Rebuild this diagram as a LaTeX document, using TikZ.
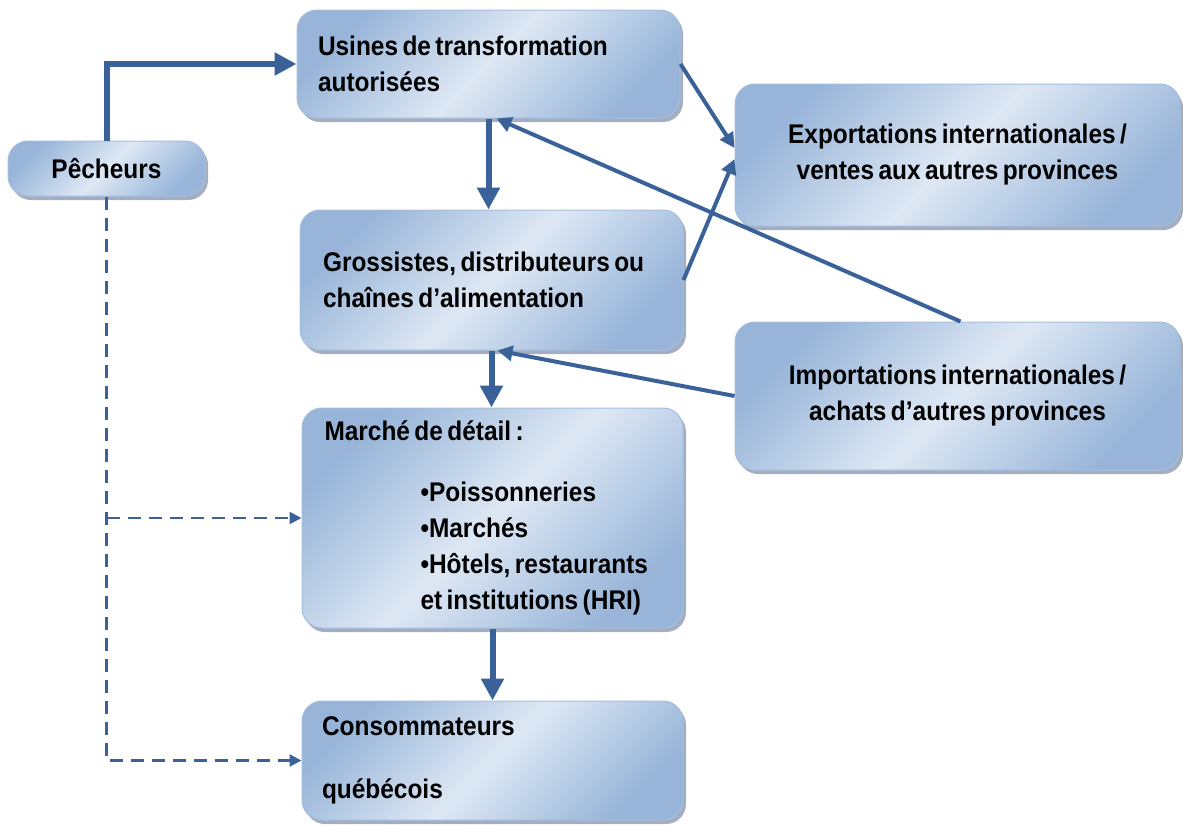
\documentclass[tikz,border=0pt]{standalone}
\usepackage{fontspec}
\setmainfont{Liberation Sans}[FakeStretch=0.905,WordSpace=0.65]
\usepackage{tikz}
\usetikzlibrary{arrows.meta}
\usetikzlibrary{positioning}
\usetikzlibrary{shadows}
\usetikzlibrary{calc}
\definecolor{flow}{RGB}{58,98,152}
\definecolor{boxlight}{RGB}{222,232,244}
\definecolor{boxdark}{RGB}{152,181,217}
\definecolor{boxline}{RGB}{165,190,222}
\definecolor{boxshade}{RGB}{125,140,165}
\tikzstyle{box}=[draw=boxline,line width=0.5pt,rounded corners=10pt,top color=boxdark,bottom color=boxdark,middle color=boxlight,shading angle=45,drop shadow={shadow xshift=1.5pt,shadow yshift=-2pt,fill=boxshade,opacity=0.7},inner sep=0pt,font=\bfseries\fontsize{13.5}{18}\selectfont]

\begin{document}
\begin{tikzpicture}[x=0.5pt,y=-0.5pt]
\tikzstyle{mainflow}=[flow,line width=3pt,-{Triangle[length=11pt,width=11pt]}]
\tikzstyle{sideflow}=[flow,line width=2pt,-{Triangle[length=7.5pt,width=7.5pt]}]
\tikzstyle{direct}=[flow,line width=1.2pt,dash pattern=on 6.5pt off 4pt,-{Triangle[length=6pt,width=6pt]}]
\useasboundingbox (0,0) rectangle (1183,825);

\node [box,minimum width=98.5pt,minimum height=27.5pt] (pech) at (106.5,168.5) {Pêcheurs};
\node [box,minimum width=191.5pt,minimum height=54pt,text width=170.5pt,align=flush left] (usine) at (488.5,64) {Usines de transformation\\autorisées};
\node [box,minimum width=191.5pt,minimum height=70pt,text width=168.5pt,align=flush left] (gross) at (491.5,280) {Grossistes, distributeurs ou\\chaînes d’alimentation};
\node [box,minimum width=190.5pt,minimum height=110pt,text width=168pt,align=flush left] (marche) at (492.5,518) {Marché de détail :\\[12.5pt]
  \hspace*{48pt}•Poissonneries\\
  \hspace*{48pt}•Marchés\\
  \hspace*{48pt}•Hôtels, restaurants\\
  \hspace*{48pt}et institutions (HRI)};
\node [box,minimum width=190.5pt,minimum height=59.5pt,text width=170.5pt,align=flush left] (conso) at (492.5,760.5) {Consommateurs\\[13.5pt]québécois};
\node [box,minimum width=222.5pt,minimum height=71pt,align=center] (export) at (957.5,155) {Exportations internationales /\\ventes aux autres provinces};
\node [box,minimum width=222.5pt,minimum height=74pt,align=center] (import) at (957.5,396) {Importations internationales /\\achats d’autres provinces};

\draw [mainflow] (pech.north) |- (usine.west);
\draw [mainflow] (usine.south) -- (usine.south |- gross.north);
\draw [mainflow] (gross.south) -- (gross.south |- marche.north);
\draw [mainflow] (marche.south) -- (marche.south |- conso.north);

\draw [sideflow] (usine.east) -- ($(export.west)+(0,-7)$);
\draw [sideflow] (gross.east) -- ($(export.west)+(0,4)$);
\draw [sideflow] ($(import.north)+(3,0)$) -- ($(usine.south)+(8,0)$);
\draw [sideflow] (import.west) -- ($(gross.south)+(6,0)$);

\coordinate (split) at (pech.south |- marche.west);
\draw [direct] (pech.south) -- (pech.south |- conso.west) -- (conso.west);
\draw [direct] (split) -- (marche.west);
\end{tikzpicture}
\end{document}
